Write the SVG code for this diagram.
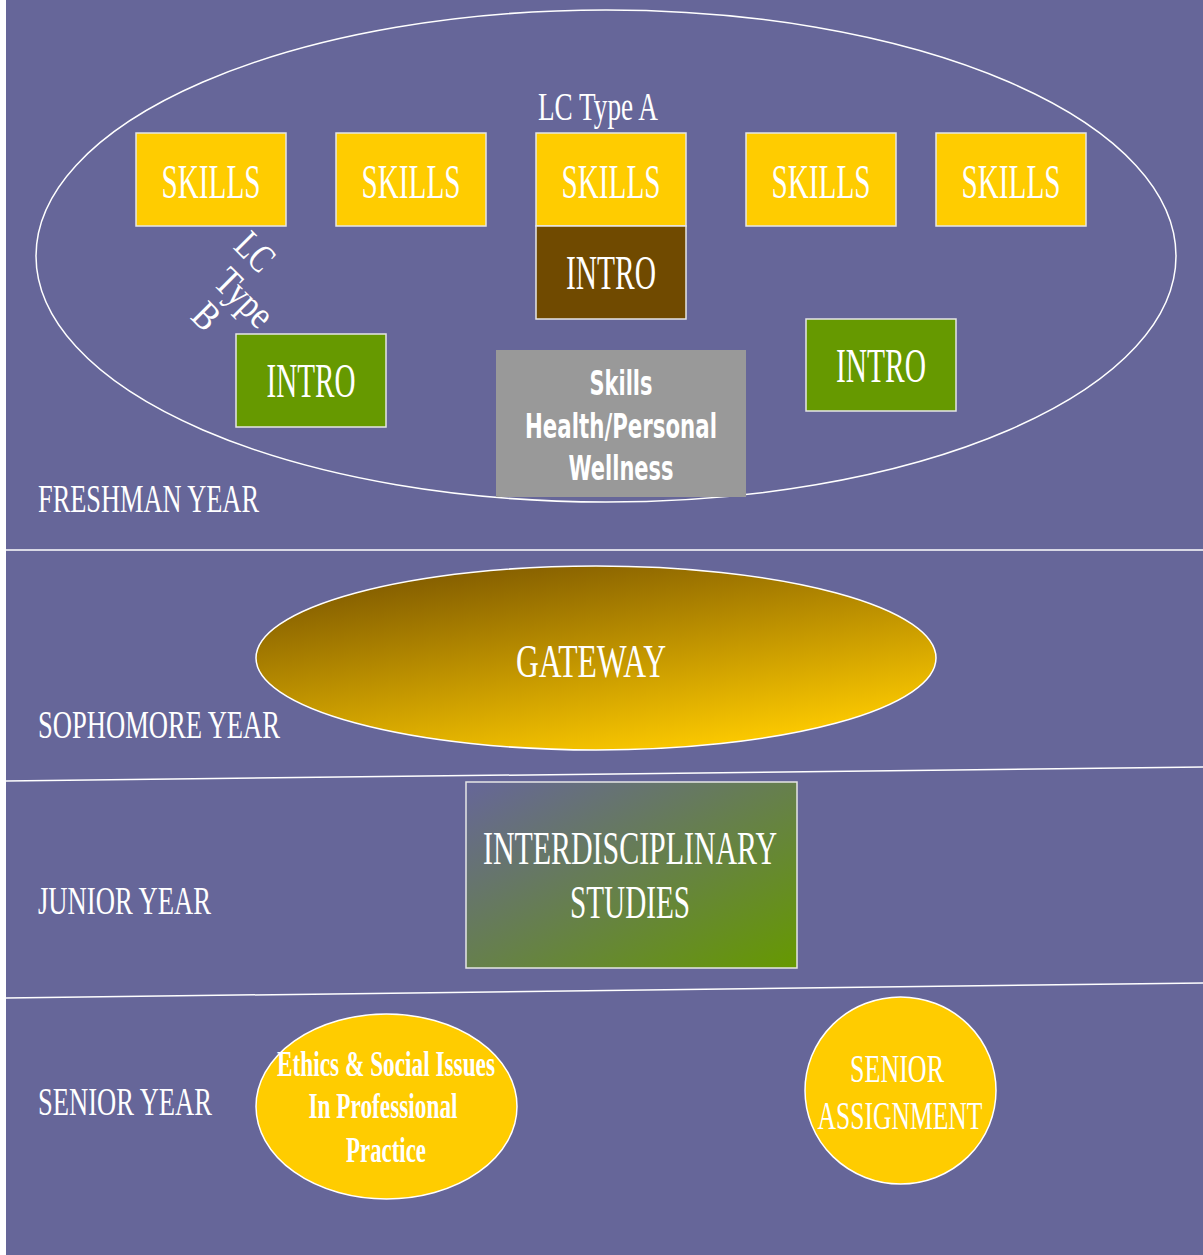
<svg xmlns="http://www.w3.org/2000/svg" width="1203" height="1255" viewBox="0 0 1203 1255">
<style>
.t{font-family:"Liberation Serif","Times New Roman",serif;fill:#fff;text-anchor:middle}
.tl{font-family:"Liberation Serif","Times New Roman",serif;fill:#fff}
.sk{fill:#FFCC00;stroke:#E6E6E6;stroke-width:1.5}
.gr{fill:#669900;stroke:#E6E6E6;stroke-width:1.5}
.sep{stroke:#fff;stroke-width:1.5;fill:none}
.gb{font-family:"DejaVu Sans Condensed","DejaVu Sans",sans-serif;font-weight:bold;fill:#fff;text-anchor:middle;font-size:33px}
.eb{font-family:"Liberation Serif","Times New Roman",serif;font-weight:bold;fill:#fff;text-anchor:middle;font-size:35px}
</style>
<defs>
<linearGradient id="gw" x1="0.15" y1="0" x2="0.7" y2="1">
<stop offset="0" stop-color="#7A5500"/>
<stop offset="1" stop-color="#FFCC00"/>
</linearGradient>
<linearGradient id="ids" x1="0" y1="0" x2="1" y2="1">
<stop offset="0" stop-color="#666699"/>
<stop offset="1" stop-color="#669900"/>
</linearGradient>
</defs>
<rect x="0" y="0" width="1203" height="1255" fill="#fff"/>
<rect x="6" y="0" width="1197" height="1255" fill="#666699"/>
<g id="separators">
<line class="sep" x1="6" y1="550" x2="1203" y2="550"/>
<line class="sep" x1="6" y1="781" x2="1203" y2="767"/>
<line class="sep" x1="6" y1="998" x2="1203" y2="983"/>
</g>
<g id="labels">
<text class="tl" x="38" y="512" font-size="40" textLength="221" lengthAdjust="spacingAndGlyphs">FRESHMAN YEAR</text>
<text class="tl" x="38" y="738" font-size="40" textLength="242" lengthAdjust="spacingAndGlyphs">SOPHOMORE YEAR</text>
<text class="tl" x="38" y="914" font-size="40" textLength="173" lengthAdjust="spacingAndGlyphs">JUNIOR YEAR</text>
<text class="tl" x="38" y="1115" font-size="40" textLength="174" lengthAdjust="spacingAndGlyphs">SENIOR YEAR</text>
</g>
<g id="freshman-ellipse">
<ellipse cx="606" cy="256" rx="570" ry="246" fill="none" stroke="#fff" stroke-width="1.5"/>
</g>
<g id="lc-type-a">
<text class="t" x="598" y="120" font-size="40" textLength="120" lengthAdjust="spacingAndGlyphs">LC Type A</text>
</g>
<g id="lc-type-b" transform="translate(255,252) rotate(45)">
<text class="t" x="0" y="13" font-size="40" textLength="38" lengthAdjust="spacingAndGlyphs">LC</text>
<text class="t" x="25" y="53" font-size="40" textLength="66" lengthAdjust="spacingAndGlyphs">Type</text>
<text class="t" x="11" y="93" font-size="40" textLength="22" lengthAdjust="spacingAndGlyphs">B</text>
</g>
<g id="skills1"><rect class="sk" x="136" y="133" width="150" height="93"/><text class="t" x="211" y="198" font-size="49" textLength="99" lengthAdjust="spacingAndGlyphs">SKILLS</text></g>
<g id="skills2"><rect class="sk" x="336" y="133" width="150" height="93"/><text class="t" x="411" y="198" font-size="49" textLength="99" lengthAdjust="spacingAndGlyphs">SKILLS</text></g>
<g id="skills3"><rect class="sk" x="536" y="133" width="150" height="93"/><text class="t" x="611" y="198" font-size="49" textLength="99" lengthAdjust="spacingAndGlyphs">SKILLS</text></g>
<g id="skills4"><rect class="sk" x="746" y="133" width="150" height="93"/><text class="t" x="821" y="198" font-size="49" textLength="99" lengthAdjust="spacingAndGlyphs">SKILLS</text></g>
<g id="skills5"><rect class="sk" x="936" y="133" width="150" height="93"/><text class="t" x="1011" y="198" font-size="49" textLength="99" lengthAdjust="spacingAndGlyphs">SKILLS</text></g>
<g id="intro-a"><rect x="536" y="226" width="150" height="93" fill="#704A00" stroke="#E6E6E6" stroke-width="1.5"/><text class="t" x="611" y="289" font-size="48" textLength="90" lengthAdjust="spacingAndGlyphs">INTRO</text></g>
<g id="intro-b"><rect class="gr" x="236" y="334" width="150" height="93"/><text class="t" x="311" y="397" font-size="48" textLength="89" lengthAdjust="spacingAndGlyphs">INTRO</text></g>
<g id="intro-c"><rect class="gr" x="806" y="319" width="150" height="92"/><text class="t" x="881" y="382" font-size="48" textLength="90" lengthAdjust="spacingAndGlyphs">INTRO</text></g>
<g id="skills-health">
<rect x="496" y="350" width="250" height="147" fill="#999999"/>
<text class="gb" x="621" y="395" textLength="63" lengthAdjust="spacingAndGlyphs">Skills</text>
<text class="gb" x="621" y="438" textLength="192" lengthAdjust="spacingAndGlyphs">Health/Personal</text>
<text class="gb" x="621" y="480" textLength="105" lengthAdjust="spacingAndGlyphs">Wellness</text>
</g>
<g id="gateway">
<ellipse cx="596" cy="658" rx="340" ry="92" fill="url(#gw)" stroke="#fff" stroke-width="1.5"/>
<text class="t" x="591" y="677" font-size="46" textLength="150" lengthAdjust="spacingAndGlyphs">GATEWAY</text>
</g>
<g id="interdisciplinary">
<rect x="466" y="782" width="331" height="186" fill="url(#ids)" stroke="#E6E6E6" stroke-width="1.5"/>
<text class="t" x="630" y="864" font-size="46" textLength="294" lengthAdjust="spacingAndGlyphs">INTERDISCIPLINARY</text>
<text class="t" x="630" y="918" font-size="46" textLength="120" lengthAdjust="spacingAndGlyphs">STUDIES</text>
</g>
<g id="ethics">
<ellipse cx="386.5" cy="1106.5" rx="130.5" ry="92.5" fill="#FFCC00" stroke="#fff" stroke-width="1.5"/>
<text class="eb" x="386" y="1076" textLength="218" lengthAdjust="spacingAndGlyphs">Ethics &amp; Social Issues</text>
<text class="eb" x="383" y="1118" textLength="149" lengthAdjust="spacingAndGlyphs">In Professional</text>
<text class="eb" x="386" y="1162" textLength="80" lengthAdjust="spacingAndGlyphs">Practice</text>
</g>
<g id="senior-assignment">
<ellipse cx="900.5" cy="1090.5" rx="95.5" ry="93.5" fill="#FFCC00" stroke="#fff" stroke-width="1.5"/>
<text class="t" x="897" y="1082" font-size="40" textLength="94" lengthAdjust="spacingAndGlyphs">SENIOR</text>
<text class="t" x="900" y="1129" font-size="40" textLength="165" lengthAdjust="spacingAndGlyphs">ASSIGNMENT</text>
</g>
<g id="connectors"></g>
</svg>
